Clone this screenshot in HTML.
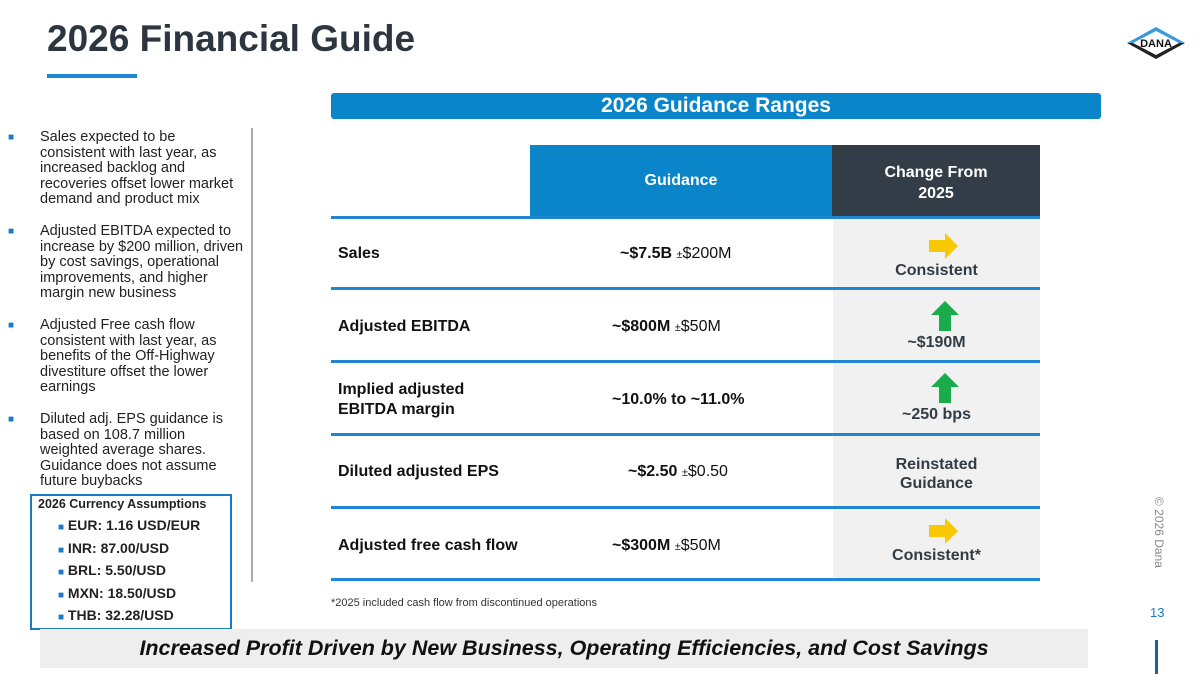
<!DOCTYPE html>
<html><head><meta charset="utf-8"><style>
body{margin:0;width:1200px;height:675px;position:relative;overflow:hidden;background:#fff;font-family:"Liberation Sans",Arial,sans-serif;color:#111}
.a{position:absolute}
.b{font-weight:bold}
.bul{font-size:14.5px;line-height:15.6px;color:#222}
.sq{position:absolute;left:-32px;color:#1a7ac7;font-size:10px}
.sep{position:absolute;left:331px;width:709px;height:3px;background:#1f87d1}
.rl{position:absolute;left:338px;font-size:16px;font-weight:bold}
.gv{position:absolute;font-size:16px}
.ch{position:absolute;left:833px;width:207px;text-align:center;font-size:16px;font-weight:bold;color:#333b44}
.ci{white-space:nowrap;height:22.5px;line-height:22.5px}
.ci span{color:#1a7ac7;font-size:10px;line-height:10px}
</style></head><body>
<div class="a b" style="left:47px;top:18px;font-size:37px;color:#2d3640">2026 Financial Guide</div>
<div class="a" style="left:47px;top:74px;width:90px;height:4px;background:#1f87d1"></div>
<svg class="a" style="left:1125px;top:25px" width="62" height="36" viewBox="0 0 62 36">
<polygon points="31,2 60,18 2,18" fill="#3a9ad9"/><polygon points="2,18 60,18 31,34" fill="#222"/><polygon points="31,6 54,18 31,30 8,18" fill="#fff"/>
<text x="31" y="22" text-anchor="middle" font-size="11" font-weight="bold" font-family="Liberation Sans" fill="#111">DANA</text></svg>
<div class="a b" style="left:331px;top:93px;width:770px;height:26px;background:#0a85c9;border-radius:3px;color:#fff;font-size:21px;text-align:center;line-height:26px">2026 Guidance Ranges</div>

<div class="a bul" style="left:40px;top:130px;width:204px">
<div style="position:relative"><span class="sq">■</span>Sales expected to be<br>consistent with last year, as increased backlog and recoveries offset lower market demand and product mix</div>
<div style="position:relative;margin-top:16px"><span class="sq">■</span>Adjusted EBITDA expected to increase by $200 million, driven by cost savings, operational improvements, and higher margin new business</div>
<div style="position:relative;margin-top:16px"><span class="sq">■</span>Adjusted Free cash flow consistent with last year, as benefits of the Off-Highway divestiture offset the lower earnings</div>
<div style="position:relative;margin-top:16px"><span class="sq">■</span>Diluted adj. EPS guidance is based on 108.7 million<br>weighted average shares. Guidance does not assume future buybacks</div>
</div>
<div class="a" style="left:251px;top:128px;width:2px;height:454px;background:#aaa"></div>
<div class="a b" style="left:30px;top:494px;width:198px;height:132px;border:2px solid #1a7ac7;background:#fff;font-size:14px;color:#222">
<div style="font-size:12.5px;margin:1px 0 0 6px">2026 Currency Assumptions</div>
<div style="margin:3px 0 0 26px;position:relative">
<div class="ci"><span>■</span> EUR: 1.16 USD/EUR</div>
<div class="ci"><span>■</span> INR: 87.00/USD</div>
<div class="ci"><span>■</span> BRL: 5.50/USD</div>
<div class="ci"><span>■</span> MXN: 18.50/USD</div>
<div class="ci"><span>■</span> THB: 32.28/USD</div></div></div>

<div class="a b" style="left:530px;top:145px;width:302px;height:72px;background:#0a85c9;color:#fff;font-size:16px;text-align:center;line-height:72px">Guidance</div>
<div class="a b" style="left:832px;top:145px;width:208px;height:72px;background:#333d47;color:#fff;font-size:16px;text-align:center;padding-top:17px;box-sizing:border-box;line-height:21px">Change From<br>2025</div>
<div class="a" style="left:833px;top:218px;width:207px;height:362px;background:#f1f1f1"></div>
<div class="sep" style="top:216px"></div><div class="sep" style="top:287px"></div><div class="sep" style="top:360px"></div><div class="sep" style="top:433px"></div><div class="sep" style="top:506px"></div><div class="sep" style="top:578px"></div>

<div class="rl" style="top:245px">Sales</div>
<div class="gv" style="left:620px;top:245px"><b>~$7.5B</b> <span style="font-size:11px">±</span>$200M</div>
<div class="ch" style="top:262px">Consistent</div>
<svg class="a" style="left:929px;top:233px" width="30" height="26"><polygon points="0,7 16,7 16,0 29,13 16,26 16,19 0,19" fill="#f8c800"/></svg>

<div class="rl" style="top:318px">Adjusted EBITDA</div>
<div class="gv" style="left:612px;top:318px"><b>~$800M</b> <span style="font-size:11px">±</span>$50M</div>
<div class="ch" style="top:334px">~$190M</div>
<svg class="a" style="left:931px;top:301px" width="28" height="30"><polygon points="14,0 28,14 20,14 20,30 8,30 8,14 0,14" fill="#1aab4b"/></svg>

<div class="rl" style="top:380px;line-height:20px">Implied adjusted<br>EBITDA margin</div>
<div class="gv b" style="left:612px;top:391px">~10.0% to ~11.0%</div>
<div class="ch" style="top:406px">~250 bps</div>
<svg class="a" style="left:931px;top:373px" width="28" height="30"><polygon points="14,0 28,14 20,14 20,30 8,30 8,14 0,14" fill="#1aab4b"/></svg>

<div class="rl" style="top:463px">Diluted adjusted EPS</div>
<div class="gv" style="left:628px;top:463px"><b>~$2.50</b> <span style="font-size:11px">±</span>$0.50</div>
<div class="ch" style="top:455px;line-height:19px">Reinstated<br>Guidance</div>

<div class="rl" style="top:537px">Adjusted free cash flow</div>
<div class="gv" style="left:612px;top:537px"><b>~$300M</b> <span style="font-size:11px">±</span>$50M</div>
<div class="ch" style="top:547px">Consistent*</div>
<svg class="a" style="left:929px;top:518px" width="30" height="26"><polygon points="0,7 16,7 16,0 29,13 16,26 16,19 0,19" fill="#f8c800"/></svg>

<div class="a" style="left:331px;top:597px;font-size:11px;color:#333">*2025 included cash flow from discontinued operations</div>
<div class="a" style="left:1166px;top:497px;font-size:12px;color:#888;white-space:nowrap;transform:rotate(90deg);transform-origin:0 0">© 2026 Dana</div>
<div class="a" style="left:1150px;top:605px;font-size:13px;color:#1a7ac7">13</div>
<div class="a b" style="left:40px;top:629px;width:1048px;height:39px;background:#eeeeee;text-align:center;line-height:39px;font-size:21.5px;font-style:italic;color:#111">Increased Profit Driven by New Business, Operating Efficiencies, and Cost Savings</div>
<div class="a" style="left:1155px;top:640px;width:3px;height:34px;background:#1a5fb4"></div>
</body></html>
